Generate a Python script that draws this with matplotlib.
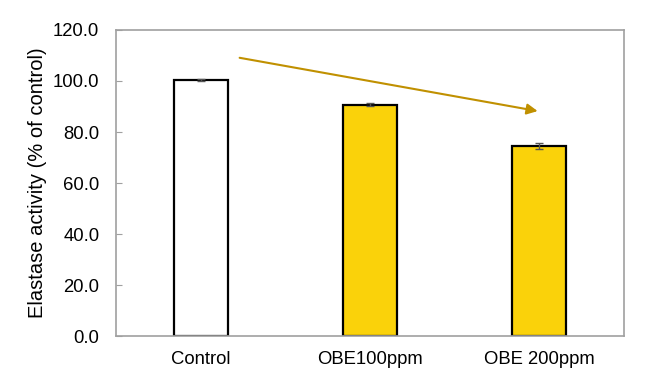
import matplotlib
matplotlib.use('Agg')
import matplotlib.pyplot as plt

plt.rcParams['font.family'] = ['Liberation Sans', 'DejaVu Sans']

groups = ['Control', 'OBE100ppm', 'OBE 200ppm']
activity = [100.4, 90.6, 74.6]
errors = [0.3, 0.6, 1.2]
colors = ['white', '#FAD20A', '#FAD20A']

fig = plt.figure(figsize=(6.5, 3.89), dpi=100)
ax = fig.add_axes([0.1785, 0.1362, 0.7815, 0.7867])

x = range(len(groups))
ax.bar(x, activity, width=0.32, color=colors, edgecolor='black', linewidth=1.6,
       yerr=errors, error_kw=dict(ecolor='#555555', elinewidth=1, capsize=3, capthick=1))

ax.set_xlim(-0.5, 2.5)
ax.set_ylim(0, 120)
ax.set_yticks([0, 20, 40, 60, 80, 100, 120])
ax.set_yticklabels(['%.1f' % v for v in [0, 20, 40, 60, 80, 100, 120]])
ax.set_xticks(list(x))
ax.set_xticklabels(groups)
ax.tick_params(axis='y', direction='in', length=4, color='#A0A0A0', labelsize=13.3, pad=12)
ax.tick_params(axis='x', length=0, labelsize=13.3, pad=11)
for s in ax.spines.values():
    s.set_color('#A0A0A0')
    s.set_linewidth(1.2)

ax.set_ylabel('Elastase activity (% of control)', fontsize=14.5, labelpad=4)

# trend arrow
ax.annotate('', xy=(1.99, 88.2), xytext=(0.23, 109.1),
            arrowprops=dict(arrowstyle='-|>', color='#C09000', lw=1.5,
                            mutation_scale=16, shrinkA=0, shrinkB=0))

fig.savefig('out.png', dpi=100)
